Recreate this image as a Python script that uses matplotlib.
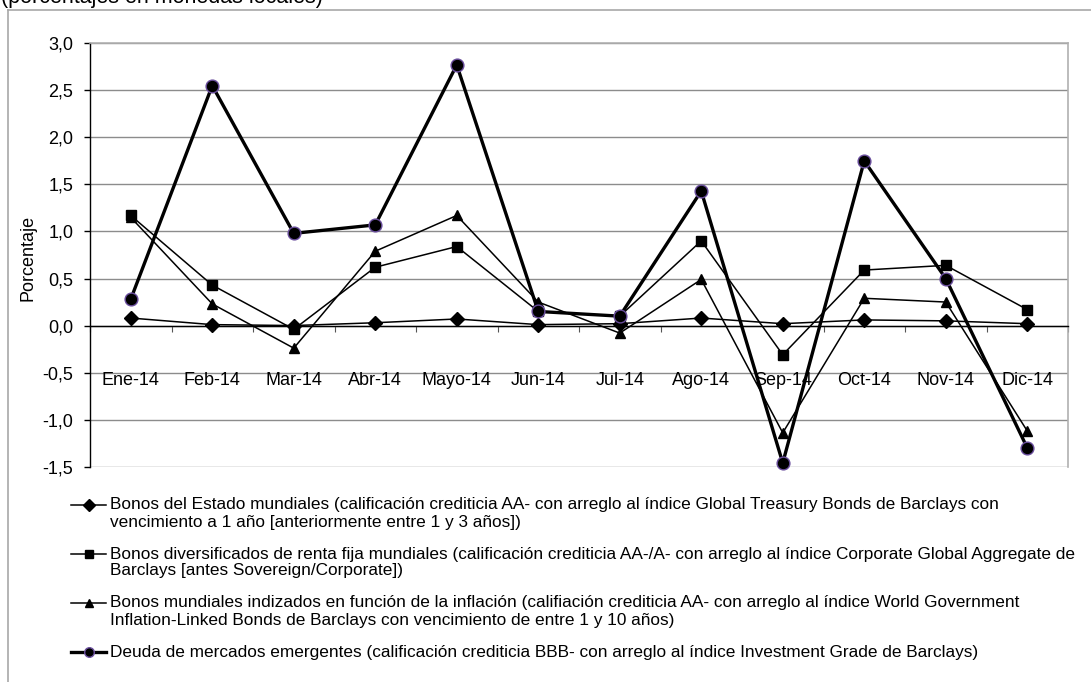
import matplotlib
matplotlib.use("Agg")
import matplotlib.pyplot as plt
from matplotlib.lines import Line2D
import numpy as np

plt.rcParams['font.family'] = ['Liberation Sans', 'DejaVu Sans']

categories = ["Ene-14", "Feb-14", "Mar-14", "Abr-14", "Mayo-14", "Jun-14",
              "Jul-14", "Ago-14", "Sep-14", "Oct-14", "Nov-14", "Dic-14"]

bonos_estado = [0.08, 0.01, 0.00, 0.03, 0.07, 0.01, 0.02, 0.08, 0.02, 0.06, 0.05, 0.02]
bonos_diversificados = [1.17, 0.43, -0.04, 0.62, 0.84, 0.15, 0.10, 0.90, -0.31, 0.59, 0.64, 0.17]
bonos_inflacion = [1.15, 0.23, -0.24, 0.79, 1.17, 0.25, -0.08, 0.49, -1.14, 0.29, 0.25, -1.12]
deuda_emergentes = [0.28, 2.55, 0.98, 1.07, 2.77, 0.15, 0.10, 1.43, -1.46, 1.75, 0.50, -1.30]

yticks = [-1.5, -1.0, -0.5, 0.0, 0.5, 1.0, 1.5, 2.0, 2.5, 3.0]
ytick_labels = ["-1,5", "-1,0", "-0,5", "0,0", "0,5", "1,0", "1,5", "2,0", "2,5", "3,0"]

title = "(porcentajes en monedas locales)"
ylabel = "Porcentaje"
legend_labels = [
    "Bonos del Estado mundiales (calificación crediticia AA- con arreglo al índice Global Treasury Bonds de Barclays con\nvencimiento a 1 año [anteriormente entre 1 y 3 años])",
    "Bonos diversificados de renta fija mundiales (calificación crediticia AA-/A- con arreglo al índice Corporate Global Aggregate de\nBarclays [antes Sovereign/Corporate])",
    "Bonos mundiales indizados en función de la inflación (califiación crediticia AA- con arreglo al índice World Government\nInflation-Linked Bonds de Barclays con vencimiento de entre 1 y 10 años)",
    "Deuda de mercados emergentes (calificación crediticia BBB- con arreglo al índice Investment Grade de Barclays)",
]

W, H = 1091, 682
fig = plt.figure(figsize=(W / 100, H / 100), dpi=100)
fig.patch.set_facecolor('white')

def fx(px):
    return px / W

def fy(py):
    return 1 - py / H

left, right, top, bottom = 90, 1068, 43.3, 466.7
ax = fig.add_axes([fx(left), fy(bottom), (right - left) / W, (bottom - top) / H])

x = np.arange(len(categories))
purple = '#6b4f9e'
styles = [
    dict(marker='D', ms=7.5, lw=1.1, mfc='black', mec='black'),
    dict(marker='s', ms=7.2, lw=1.1, mfc='black', mec='black'),
    dict(marker='^', ms=7.8, lw=1.1, mfc='black', mec='black'),
    dict(marker='o', ms=9.2, lw=2.4, mfc='black', mec=purple, mew=1.0),
]
series = [bonos_estado, bonos_diversificados, bonos_inflacion, deuda_emergentes]
for vals, st in zip(series, styles):
    ax.plot(x, vals, color='black', clip_on=False, zorder=3, **st)

ax.set_xlim(-0.5, len(categories) - 0.5)
ax.set_ylim(-1.5, 3.0)
ax.set_yticks(yticks)
ax.set_yticklabels(ytick_labels, fontsize=13)
ax.tick_params(axis='y', direction='out', length=4, width=1, pad=8, colors='black')
ax.yaxis.grid(True, color='#8c8c8c', lw=1.0)
ax.set_axisbelow(True)

ax.spines['bottom'].set_position(('data', 0))
ax.spines['bottom'].set_color('black')
ax.spines['bottom'].set_linewidth(1.0)
ax.spines['left'].set_color('black')
ax.spines['left'].set_linewidth(1.0)
for s in ('top', 'right'):
    ax.spines[s].set_color('#b0b0b0')
    ax.spines[s].set_linewidth(1.2)
ax.set_xticks(np.arange(-0.5, len(categories), 1.0))
ax.set_xticklabels([])
ax.tick_params(axis='x', direction='out', length=4, width=0.8, colors='#555555')

for i, lab in enumerate(categories):
    ax.text(i, -0.585, lab, ha='center', va='center', fontsize=13)

fig.text(fx(28), fy(258), ylabel, rotation=90, ha='center', va='center', fontsize=13)

fig.text(fx(1), fy(3.5), title, ha='left', va='baseline', fontsize=15.5)

# outer chart border
border = '#a8a8a8'
fig.add_artist(Line2D([fx(8), fx(8)], [fy(10), fy(H + 2)], color=border, lw=1.2))
fig.add_artist(Line2D([fx(8), fx(W + 2)], [fy(10), fy(10)], color=border, lw=1.2))

# legend
entry_y = [505, 554, 603, 652]
line_gap = 17
for lab, st, y0 in zip(legend_labels, styles, entry_y):
    lw = st['lw']
    fig.add_artist(Line2D([fx(71), fx(106)], [fy(y0), fy(y0)], color='black', lw=lw))
    ms = st['ms'] * (0.75 if st['marker'] == 'o' else 0.8)
    fig.add_artist(Line2D([fx(88.5)], [fy(y0)], marker=st['marker'], ms=ms,
                          mfc=st['mfc'], mec=st['mec'], mew=st.get('mew', 1.0), lw=0))
    for k, line in enumerate(lab.split("\n")):
        fig.text(fx(110), fy(y0 + k * line_gap), line, ha='left', va='center', fontsize=12.4)

fig.savefig("out.png", dpi=100, facecolor='white')
